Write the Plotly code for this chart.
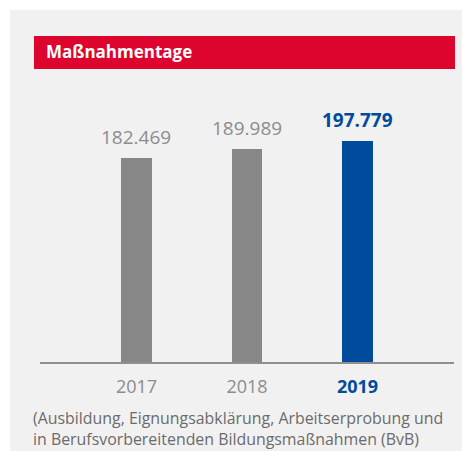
import plotly.graph_objects as go

years = ["2017", "2018", "2019"]
values = [182469, 189989, 197779]
value_labels = ["182.469", "189.989", "197.779"]
bar_colors = ["#878787", "#878787", "#004b9b"]
label_colors = ["#8c8c8c", "#8c8c8c", "#004b9b"]
label_bold = [False, False, True]
title_text = "Maßnahmentage"
footnote = ("(Ausbildung, Eignungsabklärung, Arbeitserprobung und<br>"
            "in Berufsvorbereitenden Bildungsmaßnahmen (BvB)")

# page body has an 8px margin, so figure coords = reference coords - 8
W, H = 462, 443
FONT = "Open Sans"

def px(x):
    return (x - 8) / W

def py(y):
    return (H - (y - 8)) / H

xs = list(range(len(years)))

fig = go.Figure()
fig.add_trace(go.Bar(
    x=xs, y=values, width=0.28,
    marker=dict(color=bar_colors, line=dict(width=0)),
    hoverinfo="skip",
))

def styled(t, c, b):
    s = f"<span style='color:{c}'>{t}</span>"
    return f"<b>{s}</b>" if b else s

for i, (v, lab) in enumerate(zip(values, value_labels)):
    fig.add_annotation(
        x=xs[i], y=v, xref="x", yref="y",
        text=styled(lab, label_colors[i], label_bold[i]),
        showarrow=False, yanchor="bottom", yshift=6,
        font=dict(family=FONT, size=19, color=label_colors[i]),
    )

# panel background
fig.add_shape(type="rect", xref="paper", yref="paper",
              x0=px(10), x1=px(469), y0=0, y1=py(10),
              fillcolor="#f1f1f1", line=dict(width=0), layer="below")
# red title bar
fig.add_shape(type="rect", xref="paper", yref="paper",
              x0=px(34), x1=px(455), y0=py(69), y1=py(36),
              fillcolor="#dd052e", line=dict(width=0), layer="below")
fig.add_annotation(xref="paper", yref="paper",
                   x=px(44), y=py(52), xanchor="left", yanchor="middle",
                   text=f"<b>{title_text}</b>", showarrow=False,
                   font=dict(family=FONT, size=17, color="white"))
fig.add_annotation(xref="paper", yref="paper",
                   x=px(31), y=py(428), xanchor="left", yanchor="middle",
                   text=footnote, showarrow=False, align="left",
                   font=dict(family=FONT, size=15.9, color="#6b6b6b"))

fig.update_layout(
    width=W, height=H,
    margin=dict(l=0, r=0, t=0, b=0, autoexpand=False),
    paper_bgcolor="white", plot_bgcolor="rgba(0,0,0,0)",
    showlegend=False,
    bargap=0,
    xaxis=dict(
        domain=[px(40), px(454)],
        range=[-0.873, 2.873],
        tickvals=xs,
        ticktext=[styled(y, label_colors[i], label_bold[i]) for i, y in enumerate(years)],
        tickfont=dict(family=FONT, size=18, color="#8c8c8c"),
        showline=True, linecolor="#8f8f8f", linewidth=1.5,
        showgrid=False, zeroline=False, ticks="", ticklabelstandoff=8,
        fixedrange=True,
    ),
    yaxis=dict(
        domain=[py(362), py(100)],
        range=[0, 262 / 0.001119],
        visible=False, showgrid=False, zeroline=False, fixedrange=True,
    ),
)

fig.write_html("out.html")
